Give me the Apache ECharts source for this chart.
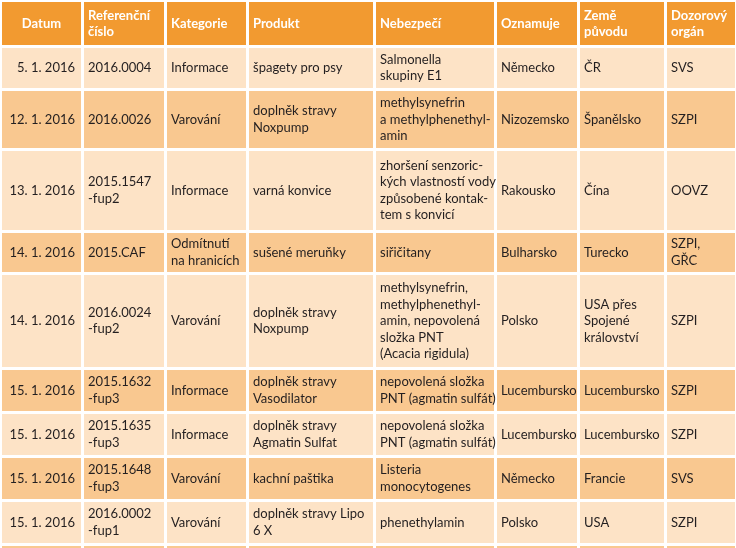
<!DOCTYPE html>
<html>
<head>
<meta charset="utf-8">
<script src="https://cdn.jsdelivr.net/npm/echarts@6/dist/echarts.min.js"></script>
<style>
  html, body { margin: 0; padding: 0; background: #fff; }
  #chart { width: 736px; height: 548px; }
</style>
</head>
<body>
<div id="chart"></div>
<script>
// table content
const headers = ['Datum', 'Referenční\nčíslo', 'Kategorie', 'Produkt', 'Nebezpečí', 'Oznamuje', 'Země\npůvodu', 'Dozorový\norgán'];
const dates = ['5. 1. 2016', '12. 1. 2016', '13. 1. 2016', '14. 1. 2016', '14. 1. 2016', '15. 1. 2016', '15. 1. 2016', '15. 1. 2016', '15. 1. 2016'];
const refNumbers = ['2016.0004', '2016.0026', '2015.1547\n-fup2', '2015.CAF', '2016.0024\n-fup2', '2015.1632\n-fup3', '2015.1635\n-fup3', '2015.1648\n-fup3', '2016.0002\n-fup1'];
const categories = ['Informace', 'Varování', 'Informace', 'Odmítnutí\nna hranicích', 'Varování', 'Informace', 'Informace', 'Varování', 'Varování'];
const products = ['špagety pro psy', 'doplněk stravy\nNoxpump', 'varná konvice', 'sušené meruňky', 'doplněk stravy\nNoxpump', 'doplněk stravy\nVasodilator', 'doplněk stravy\nAgmatin Sulfat', 'kachní paštika', 'doplněk stravy Lipo\n6 X'];
const hazards = [
  'Salmonella\nskupiny E1',
  'methylsynefrin\na methylphenethyl-\namin',
  'zhoršení senzoric-\nkých vlastností vody\nzpůsobené kontak-\ntem s konvicí',
  'siřičitany',
  'methylsynefrin,\nmethylphenethyl-\namin, nepovolená\nsložka PNT\n(Acacia rigidula)',
  'nepovolená složka\nPNT (agmatin sulfát)',
  'nepovolená složka\nPNT (agmatin sulfát)',
  'Listeria\nmonocytogenes',
  'phenethylamin'
];
const notifiers = ['Německo', 'Nizozemsko', 'Rakousko', 'Bulharsko', 'Polsko', 'Lucembursko', 'Lucembursko', 'Německo', 'Polsko'];
const origins = ['ČR', 'Španělsko', 'Čína', 'Turecko', 'USA přes\nSpojené\nkrálovství', 'Lucembursko', 'Lucembursko', 'Francie', 'USA'];
const authorities = ['SVS', 'SZPI', 'OOVZ', 'SZPI,\nGŘC', 'SZPI', 'SZPI', 'SZPI', 'SVS', 'SZPI'];

// layout of the grid (pixel units on hidden axes)
const colSpans = [[2, 81], [84, 164], [167, 246], [249, 373], [376, 494], [497, 577], [580, 664], [667, 735]];
const rowSpans = [[2, 45], [48, 88], [91, 148], [151, 230], [233, 272], [275, 367], [370, 411], [414, 455], [458, 499], [502, 543], [546, 570]];

const columns = [dates, refNumbers, categories, products, hazards, notifiers, origins, authorities];

const cells = [];
const data = [];
rowSpans.forEach((r, ri) => {
  colSpans.forEach((c, ci) => {
    let text = '';
    if (ri === 0) text = headers[ci];
    else if (ri - 1 < dates.length) text = columns[ci][ri - 1];
    cells.push({ row: ri, col: ci, text: text });
    data.push([c[0], c[1], r[0], r[1]]);
  });
});

const headerColor = '#F29A30';
const lightRow = '#FDE3C6';
const darkRow = '#F9C890';

const myChart = echarts.init(document.getElementById('chart'));
const option = {
  backgroundColor: '#fff',
  animation: false,
  grid: { left: 0, right: 0, top: 0, bottom: 0 },
  xAxis: { type: 'value', min: 0, max: 736, show: false },
  yAxis: { type: 'value', min: 0, max: 548, inverse: true, show: false },
  series: [{
    type: 'custom',
    clip: true,
    data: data,
    renderItem(params, api) {
      const cell = cells[params.dataIndex];
      const p0 = api.coord([api.value(0), api.value(2)]);
      const p1 = api.coord([api.value(1), api.value(3)]);
      const w = p1[0] - p0[0];
      const h = p1[1] - p0[1];
      const isHeader = cell.row === 0;
      const fill = isHeader ? headerColor : (cell.row % 2 === 1 ? lightRow : darkRow);
      let align = 'left';
      let tx = p0[0] + 4;
      if (cell.col === 0) {
        if (isHeader) { align = 'center'; tx = p0[0] + w / 2; }
        else { align = 'right'; tx = p1[0] - 6; }
      }
      return {
        type: 'group',
        children: [
          { type: 'rect', shape: { x: p0[0], y: p0[1], width: w, height: h }, style: { fill: fill } },
          {
            type: 'text',
            style: {
              x: tx,
              y: p0[1] + h / 2,
              text: cell.text,
              align: align,
              verticalAlign: 'middle',
              fill: isHeader ? '#fff' : '#231f20',
              font: (isHeader ? 'bold ' : '') + '13px Lato',
              lineHeight: isHeader ? 16 : 16.5
            }
          }
        ]
      };
    }
  }]
};
myChart.setOption(option);
</script>
</body>
</html>
